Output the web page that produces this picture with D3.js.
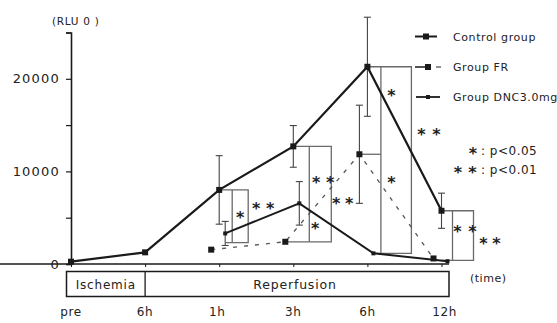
<!DOCTYPE html>
<html><head><meta charset="utf-8">
<script src="https://cdn.jsdelivr.net/npm/d3@7"></script>
<style>
html,body{margin:0;padding:0;background:#fff;}
text{font-family:"DejaVu Sans",sans-serif;fill:#222;}
</style></head>
<body>
<svg id="chart" width="557" height="323"></svg>
<script>
// ---- data ----
const timeLabels = ["pre", "6h", "1h", "3h", "6h", "12h"];
const controlGroup = [250, 1260, 8000, 12700, 21300, 5750];
const controlErr   = [null, null, 3700, 2250, 5350, 1900];
const groupFR      = [null, null, 1550, 2400, 11850, 600];
const frErr        = [null, null, null, null, 5300, null];
const groupDNC     = [null, null, 3300, 6550, 1150, 300];
const dncErr       = [null, null, 1300, 2350, null, null];
const yTicks = [0, 5000, 10000, 15000, 20000, 25000];
const yTickLabels = ["0", "", "10000", "", "20000", ""];
const phaseLabels = ["Ischemia", "Reperfusion"];
const seriesNames = ["Control group", "Group FR", "Group DNC3.0mg"];
const sigLabels = [": p<0.05", ": p<0.01"];

const svg = d3.select("#chart");
const x = d3.scaleLinear().domain([0, 5]).range([71, 441.5]);
const y = d3.scaleLinear().domain([0, 25000]).range([264, 32.5]);
const ink = "#1a1a1a", gray = "#6a6a6a";

// y axis
const yAxis = d3.axisLeft(y).tickValues(yTicks)
  .tickFormat((d, i) => yTickLabels[i]).tickSize(5).tickPadding(6);
const gy = svg.append("g").attr("transform", "translate(71,0)").call(yAxis);
gy.select(".domain").attr("stroke", ink).attr("stroke-width", 1.6);
gy.selectAll(".tick line").attr("stroke", ink).attr("stroke-width", 1.2);
gy.selectAll(".tick text").style("font-family", "DejaVu Sans").style("font-size", "13px")
  .style("letter-spacing", "1.2px").attr("fill", "#333");
svg.append("text").attr("x", 52).attr("y", 25).style("font-size", "10.5px")
  .style("letter-spacing", "0.7px").text("(RLU 0 )");

// x axis line
const xAxis = d3.axisBottom(x).tickValues(d3.range(6)).tickFormat("").tickSize(3);
const gx = svg.append("g").attr("transform", "translate(0,264)").call(xAxis);
gx.select(".domain").attr("d", "M-6,0H449").attr("stroke", ink).attr("stroke-width", 1.4);
gx.selectAll(".tick line").attr("stroke", ink);

// phase box
svg.append("rect").attr("x", 66.5).attr("y", 271.5).attr("width", 382.5).attr("height", 25)
  .attr("fill", "none").attr("stroke", ink).attr("stroke-width", 1.5);
svg.append("line").attr("x1", x(1)).attr("x2", x(1)).attr("y1", 271.5).attr("y2", 296.5)
  .attr("stroke", ink).attr("stroke-width", 1.3);
svg.append("text").attr("x", (66.5 + x(1)) / 2).attr("y", 288.5).attr("text-anchor", "middle")
  .style("font-size", "12px").style("letter-spacing", "0.8px").text(phaseLabels[0]);
svg.append("text").attr("x", 295).attr("y", 288.5).attr("text-anchor", "middle")
  .style("font-size", "12.5px").style("letter-spacing", "0.8px").text(phaseLabels[1]);
svg.append("text").attr("x", 470).attr("y", 282).style("font-size", "11px")
  .style("letter-spacing", "0.5px").text("(time)");

// x tick labels
svg.append("g").selectAll("text").data(timeLabels).join("text")
  .attr("x", (d, i) => x(i) + (i === 5 ? 3 : 0) - (i === 2 ? 2 : 0)).attr("y", 316)
  .attr("text-anchor", "middle").style("font-size", "12px").style("letter-spacing", "0.6px")
  .attr("fill", "#333").text(d => d);

// error bars
function errBars(vals, errs, off) {
  const g = svg.append("g").attr("stroke", "#444").attr("stroke-width", 1.1);
  vals.forEach((v, i) => {
    if (v == null || errs[i] == null) return;
    const cx = x(i) + off, t = y(v + errs[i]), b = y(v - errs[i]);
    g.append("line").attr("x1", cx).attr("x2", cx).attr("y1", t).attr("y2", b);
    g.append("line").attr("x1", cx - 3.5).attr("x2", cx + 3.5).attr("y1", t).attr("y2", t);
    g.append("line").attr("x1", cx - 3.5).attr("x2", cx + 3.5).attr("y1", b).attr("y2", b);
  });
}
errBars(controlGroup, controlErr, 0);
errBars(groupFR, frErr, -8);
errBars(groupDNC, dncErr, 6);

// significance brackets (built from the series means)
const br = svg.append("g").attr("fill", "none").attr("stroke", gray).attr("stroke-width", 1.3);
function path(pts) { br.append("path").attr("d", d3.line()(pts)); }
// 1h
{ const c = x(2), t = y(controlGroup[2]), b = y(2300);
  path([[c, t], [c + 29, t], [c + 29, b], [c + 6, b]]);
  path([[c + 13, t], [c + 13, b]]); }
// 3h
{ const c = x(3), t = y(controlGroup[3]), b = y(groupFR[3]);
  path([[c, t], [c + 38, t], [c + 38, b], [c - 8, b]]);
  path([[c + 16, t], [c + 16, b]]); }
// 6h
{ const c = x(4), t = y(controlGroup[4]), b = y(groupDNC[4]);
  path([[c, t], [c + 44, t], [c + 44, b], [c + 6, b]]);
  path([[c + 13.5, t], [c + 13.5, b]]);
  path([[c - 8, y(groupFR[4])], [c + 13.5, y(groupFR[4])]]); }
// 12h
{ const c = x(5), t = y(controlGroup[5]), b = y(400);
  path([[c, t], [c + 32, t], [c + 32, b], [c, b]]);
  path([[c + 11, t], [c + 11, b]]); }

// asterisks
const stars = [
  [2, 21, 5400], [2, 37, 6400], [2, 51, 6400],
  [3, 23, 9200], [3, 37, 9200], [3, 22, 4200], [3, 43, 6900], [3, 56, 6900],
  [4, 24, 18600], [4, 24, 9200], [4, 54, 14400], [4, 69, 14400],
  [5, 16, 3900], [5, 31, 3900], [5, 42, 2600], [5, 55, 2600]
];
svg.append("g").selectAll("text").data(stars).join("text")
  .attr("x", d => x(d[0]) + d[1]).attr("y", d => y(d[2]) + 9)
  .attr("text-anchor", "middle").style("font-size", "16px").style("font-weight", "bold")
  .attr("fill", "#333").text("*");

// lines
function series(vals, off, opts) {
  const pts = vals.map((v, i) => v == null ? null : [x(i) + off, y(v)]).filter(Boolean);
  svg.append("path").attr("d", d3.line()(pts)).attr("fill", "none")
    .attr("stroke", opts.color).attr("stroke-width", opts.w)
    .attr("stroke-dasharray", opts.dash || null);
  svg.append("g").selectAll("rect").data(pts).join("rect")
    .attr("x", d => d[0] - opts.m / 2).attr("y", d => d[1] - opts.m / 2)
    .attr("width", opts.m).attr("height", opts.m).attr("fill", ink);
}
series(groupFR, -8, { color: "#555", w: 1.3, dash: "4,7", m: 6 });
series(groupDNC, 6, { color: ink, w: 2, m: 4 });
series(controlGroup, 0, { color: ink, w: 2.2, m: 6 });

// legend
const lg = svg.append("g");
const ly = [36.5, 67, 97];
lg.append("line").attr("x1", 415).attr("x2", 437).attr("y1", ly[0]).attr("y2", ly[0]).attr("stroke", ink).attr("stroke-width", 2);
lg.append("rect").attr("x", 423).attr("y", ly[0] - 3).attr("width", 6).attr("height", 6).attr("fill", ink);
lg.append("line").attr("x1", 415).attr("x2", 431).attr("y1", ly[1]).attr("y2", ly[1]).attr("stroke", ink).attr("stroke-width", 1.5);
lg.append("line").attr("x1", 436).attr("x2", 441).attr("y1", ly[1]).attr("y2", ly[1]).attr("stroke", "#555").attr("stroke-width", 1.3);
lg.append("rect").attr("x", 425).attr("y", ly[1] - 3).attr("width", 6).attr("height", 6).attr("fill", ink);
lg.append("line").attr("x1", 416).attr("x2", 440).attr("y1", ly[2]).attr("y2", ly[2]).attr("stroke", ink).attr("stroke-width", 1.8);
lg.append("rect").attr("x", 426).attr("y", ly[2] - 2).attr("width", 4).attr("height", 4).attr("fill", ink);
lg.selectAll("text.s").data(seriesNames).join("text")
  .attr("x", 453).attr("y", (d, i) => ly[i] + 4).style("font-size", "11px")
  .style("letter-spacing", "0.6px").attr("fill", "#333").text(d => d);
lg.append("text").attr("x", 473).attr("y", 159).attr("text-anchor", "middle")
  .style("font-size", "16px").style("font-weight", "bold").attr("fill", "#333").text("*");
lg.append("text").attr("x", 458).attr("y", 178).attr("text-anchor", "middle")
  .style("font-size", "16px").style("font-weight", "bold").attr("fill", "#333").text("*");
lg.append("text").attr("x", 472.5).attr("y", 178).attr("text-anchor", "middle")
  .style("font-size", "16px").style("font-weight", "bold").attr("fill", "#333").text("*");
lg.selectAll("text.p").data(sigLabels).join("text")
  .attr("x", 481).attr("y", (d, i) => [154.5, 173.5][i]).style("font-size", "12px")
  .style("letter-spacing", "0.5px").attr("fill", "#333").text(d => d);
</script>
</body></html>
